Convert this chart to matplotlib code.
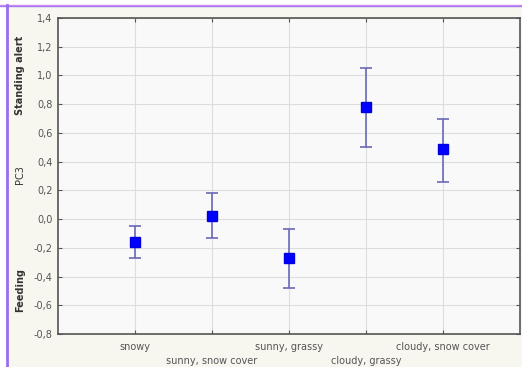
import matplotlib
matplotlib.use("Agg")
import matplotlib.pyplot as plt
from matplotlib.patches import Rectangle
from matplotlib.lines import Line2D

categories = ["snowy", "sunny, snow cover", "sunny, grassy", "cloudy, grassy", "cloudy, snow cover"]
means = [-0.16, 0.02, -0.27, 0.78, 0.49]
upper = [-0.05, 0.18, -0.07, 1.05, 0.70]
lower = [-0.27, -0.13, -0.48, 0.50, 0.26]
yticks = [1.4, 1.2, 1.0, 0.8, 0.6, 0.4, 0.2, 0.0, -0.2, -0.4, -0.6, -0.8]

W, H = 522, 367
fig = plt.figure(figsize=(W / 100, H / 100), dpi=100, facecolor="white")

# background panel and purple frame
fig.patches.append(Rectangle((7 / W, 0), 1, 1 - 6 / H, transform=fig.transFigure,
                             facecolor="#f7f6ef", edgecolor="none", zorder=-10))
fig.lines.append(Line2D([0, 1], [1 - 4.5 / H, 1 - 4.5 / H], transform=fig.transFigure,
                        color="#d58cf0", lw=1))
fig.lines.append(Line2D([0, 1], [1 - 5.5 / H, 1 - 5.5 / H], transform=fig.transFigure,
                        color="#a47cf2", lw=1))
fig.lines.append(Line2D([6.5 / W, 6.5 / W], [0, 1 - 5 / H], transform=fig.transFigure,
                        color="#9a6cf0", lw=2))

ax = fig.add_axes([58 / W, 1 - 334 / H, (520 - 58) / W, (334 - 18) / H])
ax.set_facecolor("#f9f9f9")

x = list(range(1, len(categories) + 1))
yerr_low = [m - l for m, l in zip(means, lower)]
yerr_up = [u - m for m, u in zip(means, upper)]
ax.errorbar(x, means, yerr=[yerr_low, yerr_up], fmt="none", ecolor="#6a6ab8",
            elinewidth=1.2, capsize=4, capthick=1.2, zorder=3)
ax.plot(x, means, "s", color="#0000ff", markersize=6.8, markeredgecolor="#0000dd", zorder=4)

ax.set_xlim(0, 6)
ax.set_ylim(-0.8, 1.4)
ax.set_yticks(yticks)
ax.set_yticklabels([f"{v:.1f}".replace(".", ",").replace("-0,0", "0,0") for v in yticks],
                   fontsize=7, color="#555555")
ax.set_xticks(x)
ax.set_xticklabels([("" if i % 2 == 0 else "\n") + c for i, c in enumerate(categories)],
                   fontsize=7, color="#555555", linespacing=1.45)
ax.tick_params(axis="y", direction="in", length=3, color="#555555", right=True, pad=4)
ax.tick_params(axis="x", direction="in", length=3, color="#555555", top=True, pad=6)
ax.grid(True, color="#dddddd", lw=0.8)
ax.set_axisbelow(True)
for s in ax.spines.values():
    s.set_color("#555555")
    s.set_linewidth(1.2)

fig.text(20 / W, 1 - 175 / H, "PC3", rotation=90, ha="center", va="center",
         fontsize=7, color="#333333")
fig.text(20 / W, 1 - 75 / H, "Standing alert", rotation=90, ha="center", va="center",
         fontsize=7, fontweight="bold", color="#333333")
fig.text(20 / W, 1 - 290 / H, "Feeding", rotation=90, ha="center", va="center",
         fontsize=7, fontweight="bold", color="#333333")

fig.savefig("out.png", dpi=100, facecolor=fig.get_facecolor())
